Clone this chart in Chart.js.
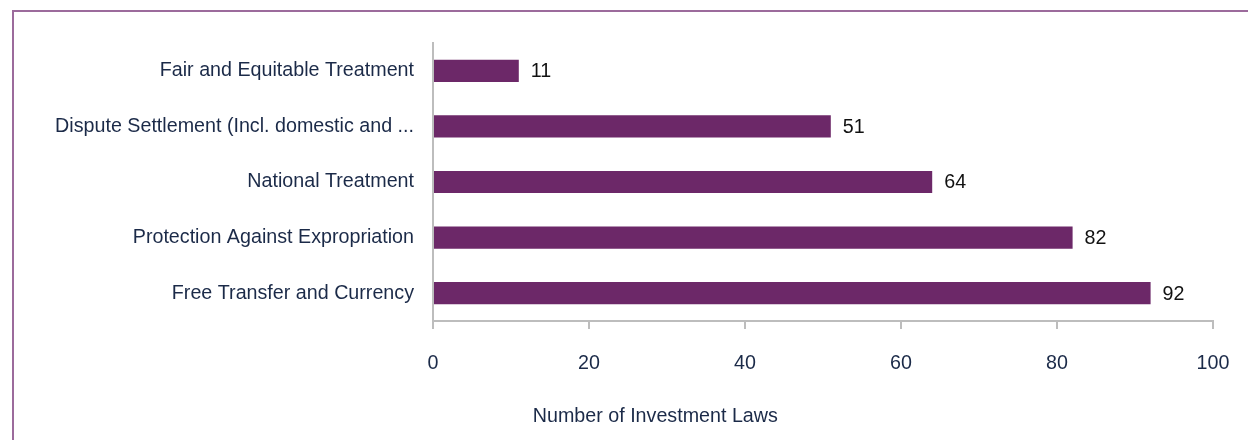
<!DOCTYPE html>
<html>
<head>
<meta charset="utf-8">
<script src="https://cdn.jsdelivr.net/npm/chart.js@4/dist/chart.umd.min.js"></script>
<style>
  html, body { margin: 0; padding: 0; background: #fff; }
  #wrap { position: relative; width: 1248px; height: 440px; overflow: hidden; }
  #frame {
    position: absolute; left: 12px; top: 10px; width: 1300px; height: 500px;
    border-top: 2px solid #9c6b9c; border-left: 2px solid #9c6b9c;
  }
  canvas { position: absolute; left: 0; top: 0; }
</style>
</head>
<body>
<div id="wrap">
  <div id="frame"></div>
  <canvas id="chart" width="1248" height="440"></canvas>
</div>
<script>
// --- data ---
const categories = [
    'Fair and Equitable Treatment',
    'Dispute Settlement (Incl. domestic and ...',
    'National Treatment',
    'Protection Against Expropriation',
    'Free Transfer and Currency',
];
const lawCounts = [11, 51, 64, 82, 92];
const xTicks = [0, 20, 40, 60, 80, 100];
const axisTitle = 'Number of Investment Laws';

const FONT = "'Liberation Sans', Arial, sans-serif";
const FONT_SIZE = 19.7;
const BAR_COLOR = '#6c2868';
const LABEL_COLOR = '#1b2a48';
const AXIS_COLOR = '#bdbdbd';

// Value labels at the bar ends, plus the x-axis title (sits left of centre in the original)
const valueLabels = {
    id: 'valueLabels',
    afterDatasetsDraw(chart) {
        const ctx = chart.ctx;
        const meta = chart.getDatasetMeta(0);
        ctx.save();
        ctx.font = FONT_SIZE + 'px ' + FONT;
        ctx.fillStyle = '#111';
        ctx.textAlign = 'left';
        ctx.textBaseline = 'middle';
        meta.data.forEach((bar, i) => {
            ctx.fillText(String(lawCounts[i]), bar.x + 12, bar.y + 1);
        });

        const area = chart.chartArea;
        ctx.fillStyle = LABEL_COLOR;
        ctx.textAlign = 'center';
        ctx.fillText(axisTitle, area.left + (area.right - area.left) * 0.285, chart.height - 23);
        ctx.restore();
    },
};

new Chart(document.getElementById('chart'), {
    type: 'bar',
    data: {
        labels: categories,
        datasets: [{
            data: lawCounts,
            backgroundColor: BAR_COLOR,
            barPercentage: 0.4,
            categoryPercentage: 1,
        }],
    },
    options: {
        indexAxis: 'y',
        responsive: false,
        animation: false,
        layout: { padding: { top: 43, right: 35, left: 0, bottom: 0 } },
        plugins: {
            legend: { display: false },
            tooltip: { enabled: false },
        },
        scales: {
            x: {
                min: 0,
                max: 100,
                afterBuildTicks(axis) {
                    axis.ticks = xTicks.map(v => ({ value: v }));
                },
                afterFit(axis) {
                    axis.height = 119;
                    axis.paddingRight = 0;
                    axis.paddingLeft = 0;
                },
                grid: {
                    drawOnChartArea: false,
                    drawTicks: true,
                    tickLength: 8,
                    color: AXIS_COLOR,
                    lineWidth: 2,
                },
                border: { display: true, color: AXIS_COLOR, width: 2 },
                ticks: {
                    padding: 23,
                    color: LABEL_COLOR,
                    font: { family: FONT, size: FONT_SIZE },
                },
            },
            y: {
                afterFit(axis) { axis.width = 433; },
                grid: { drawOnChartArea: false, drawTicks: false },
                border: { display: true, color: AXIS_COLOR, width: 2 },
                ticks: {
                    padding: 19,
                    color: LABEL_COLOR,
                    font: { family: FONT, size: FONT_SIZE },
                },
            },
        },
    },
    plugins: [valueLabels],
});
</script>
</body>
</html>
